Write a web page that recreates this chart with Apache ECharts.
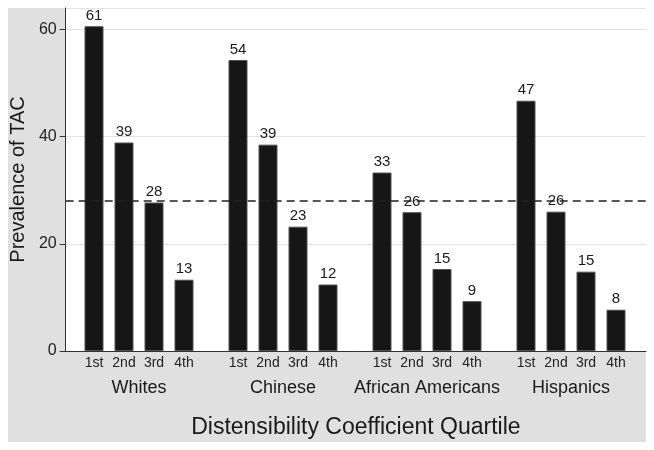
<!DOCTYPE html>
<html>
<head>
<meta charset="utf-8">
<script src="https://cdn.jsdelivr.net/npm/echarts@6/dist/echarts.min.js"></script>
<style>
  html, body { margin: 0; padding: 0; background: #fff; }
  #chart { width: 654px; height: 450px; }
</style>
</head>
<body>
<div id="chart"></div>
<script>
  // values (bar heights; labels show them rounded)
  var groups = ['Whites', 'Chinese', 'African Americans', 'Hispanics'];
  var quartiles = ['1st', '2nd', '3rd', '4th'];
  var whites = [60.6, 38.9, 27.7, 13.3];
  var chinese = [54.3, 38.5, 23.2, 12.4];
  var africanAmericans = [33.3, 25.9, 15.3, 9.3];
  var hispanics = [46.7, 26.0, 14.8, 7.7];
  var overallPrevalence = 28;
  var yMax = 64;
  var yStep = 20;

  var groupValues = [whites, chinese, africanAmericans, hispanics];
  var font = 'Liberation Sans, Arial, sans-serif';

  var plotLeft = 63, plotTop = 8, plotWidth = 583, plotHeight = 343;
  var groupLeft = 79, groupWidth = 120, groupStep = 144;

  var grids = [{ left: plotLeft, top: plotTop, width: plotWidth, height: plotHeight,
    show: true, backgroundColor: '#fff', borderWidth: 0 }];
  var xAxes = [{
    gridIndex: 0, type: 'value', min: 0, max: 1,
    axisLine: { show: true, lineStyle: { color: '#333', width: 1 } },
    axisTick: { show: false }, axisLabel: { show: false }, splitLine: { show: false },
    name: 'Distensibility Coefficient Quartile', nameLocation: 'middle', nameGap: 65,
    nameTextStyle: { fontFamily: font, fontSize: 23, color: '#1a1a1a' }
  }];
  var yAxes = [{
    gridIndex: 0, type: 'value', min: 0, max: yMax, interval: yStep,
    axisLine: { show: true, lineStyle: { color: '#333', width: 1 } },
    axisTick: { show: true, length: 6, lineStyle: { color: '#333' } },
    axisLabel: { fontFamily: font, fontSize: 16, color: '#222', margin: 9, showMaxLabel: false },
    splitLine: { show: true, lineStyle: { color: '#e2e2e2', width: 1 } },
    name: 'Prevalence of TAC', nameLocation: 'middle', nameGap: 36,
    nameTextStyle: { fontFamily: font, fontSize: 20, color: '#1a1a1a' }
  }];
  var series = [{
    type: 'line', xAxisIndex: 0, yAxisIndex: 0, data: [], silent: true,
    markLine: {
      silent: true, symbol: 'none', label: { show: false },
      lineStyle: { type: [8, 5], color: '#222', width: 1.6 },
      data: [{ yAxis: overallPrevalence }]
    }
  }];

  groups.forEach(function (g, i) {
    var gi = i + 1;
    grids.push({ left: groupLeft + groupStep * i, top: plotTop, width: groupWidth, height: plotHeight });
    xAxes.push({
      gridIndex: gi, type: 'category', data: quartiles,
      axisLine: { show: false }, axisTick: { show: false },
      axisLabel: { interval: 0, fontFamily: font, fontSize: 14, color: '#222', margin: 5 },
      name: g, nameLocation: 'middle', nameGap: 28,
      nameTextStyle: { fontFamily: font, fontSize: 18, color: '#1a1a1a' }
    });
    yAxes.push({ gridIndex: gi, type: 'value', min: 0, max: yMax, show: false });
    series.push({
      type: 'bar', xAxisIndex: gi, yAxisIndex: gi, data: groupValues[i], barWidth: 19,
      itemStyle: { color: '#161616', borderColor: '#505050', borderWidth: 1 },
      label: {
        show: true, position: 'top', distance: 3,
        fontFamily: font, fontSize: 15, color: '#1a1a1a',
        formatter: function (p) { return Math.round(p.value); }
      },
      z: 3
    });
  });

  var chart = echarts.init(document.getElementById('chart'), null, { renderer: 'canvas' });
  chart.setOption({
    animation: false,
    backgroundColor: '#fff',
    graphic: [{
      type: 'rect', z: -10, silent: true,
      shape: { x: 8, y: 8, width: 638, height: 434 },
      style: { fill: '#e0e0e0' }
    }],
    grid: grids,
    xAxis: xAxes,
    yAxis: yAxes,
    series: series
  });
</script>
</body>
</html>
